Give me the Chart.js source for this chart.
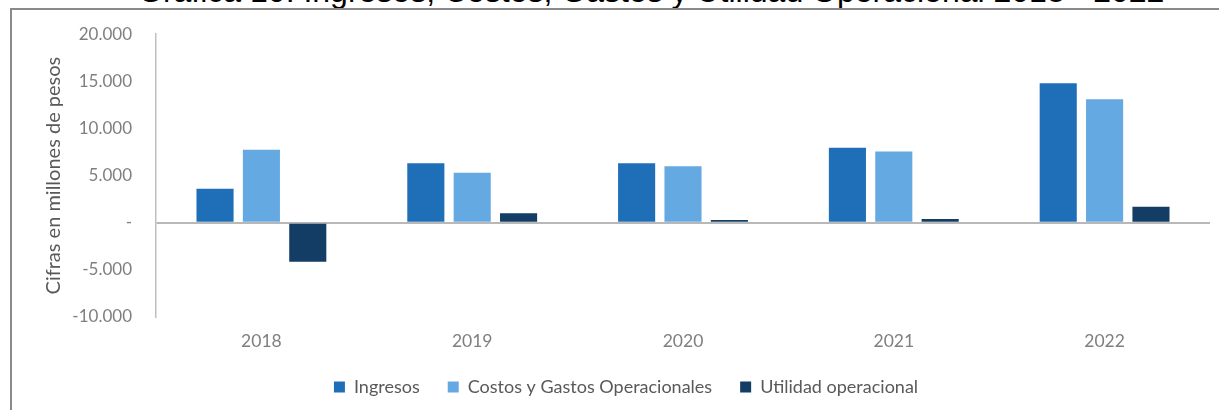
<!DOCTYPE html>
<html>
<head>
<meta charset="utf-8">
<script src="https://cdn.jsdelivr.net/npm/chart.js@4"></script>
<style>
  body { margin: 0; background: #fff; width: 1219px; height: 410px; overflow: hidden; position: relative; }
  #frame { position: absolute; left: 10px; top: 8px; width: 1230px; height: 420px;
           border-top: 2px solid #8a8a8a; border-left: 2px solid #8a8a8a; }
  #titulo { position: absolute; left: 138px; top: -25px; font-family: "Liberation Sans", Arial, sans-serif;
            font-size: 32px; line-height: 32px; color: #000; white-space: nowrap; }
  #myChart { position: absolute; left: 0; top: 0; }
</style>
</head>
<body>
<div id="titulo">Gráfica 10. Ingresos, Costos, Gastos y Utilidad Operacional 2018 - 2022</div>
<div id="frame"></div>
<canvas id="myChart" width="1219" height="410"></canvas>
<script>
// Ingresos, costos y utilidad operacional 2018 - 2022 (millones de pesos)

const years = ["2018", "2019", "2020", "2021", "2022"]
const ingresos = [3600, 6300, 6300, 7950, 14800]
const costos = [7750, 5300, 6000, 7550, 13100]
const utilidad = [-4150, 1000, 300, 400, 1700]

const ctx = document.querySelector("#myChart")
const font = "Lato, 'Open Sans', sans-serif"

const data = {
  labels: years,
  datasets: [{
    label: "Ingresos",
    data: ingresos,
    backgroundColor: '#1f6fb8'
  }, {
    label: "Costos y Gastos Operacionales",
    data: costos,
    backgroundColor: '#65a9e3'
  }, {
    label: "Utilidad operacional",
    data: utilidad,
    backgroundColor: '#133d64'
  }]
}

const options = {
  responsive: false,
  animation: false,
  layout: { padding: { top: 34, right: 9, bottom: 4, left: 42 } },
  datasets: { bar: { categoryPercentage: 0.66, barPercentage: 0.8 } },
  plugins: {
    tooltip: { enabled: false },
    legend: {
      position: 'bottom',
      labels: {
        boxWidth: 11,
        boxHeight: 11,
        padding: 28,
        color: '#595959',
        font: { family: font, size: 18 }
      }
    }
  },
  scales: {
    x: {
      grid: { display: false },
      border: { display: false },
      ticks: { color: '#7f7f7f', padding: 6, font: { family: font, size: 17.5 } },
      afterFit: s => { s.height = 33 }
    },
    y: {
      min: -10000,
      max: 20000,
      afterFit: s => { s.width = 114 },
      border: { color: '#bfbfbf', width: 1.5 },
      grid: {
        drawTicks: false,
        lineWidth: 2,
        color: c => c.tick && c.tick.value === 0 ? '#b8b8b8' : 'transparent'
      },
      ticks: {
        stepSize: 5000,
        padding: 24,
        color: '#7f7f7f',
        font: { family: font, size: 17 },
        callback: v => v === 0 ? '-' : (v < 0 ? '-' : '') + Math.abs(v / 1000) + '.000'
      },
      title: {
        display: true,
        text: "Cifras en millones de pesos",
        color: '#595959',
        padding: { top: 0, bottom: 0 },
        font: { family: font, size: 20 }
      }
    }
  }
}

const chart = new Chart(ctx, { type: 'bar', data: data, options: options })
</script>
</body>
</html>
